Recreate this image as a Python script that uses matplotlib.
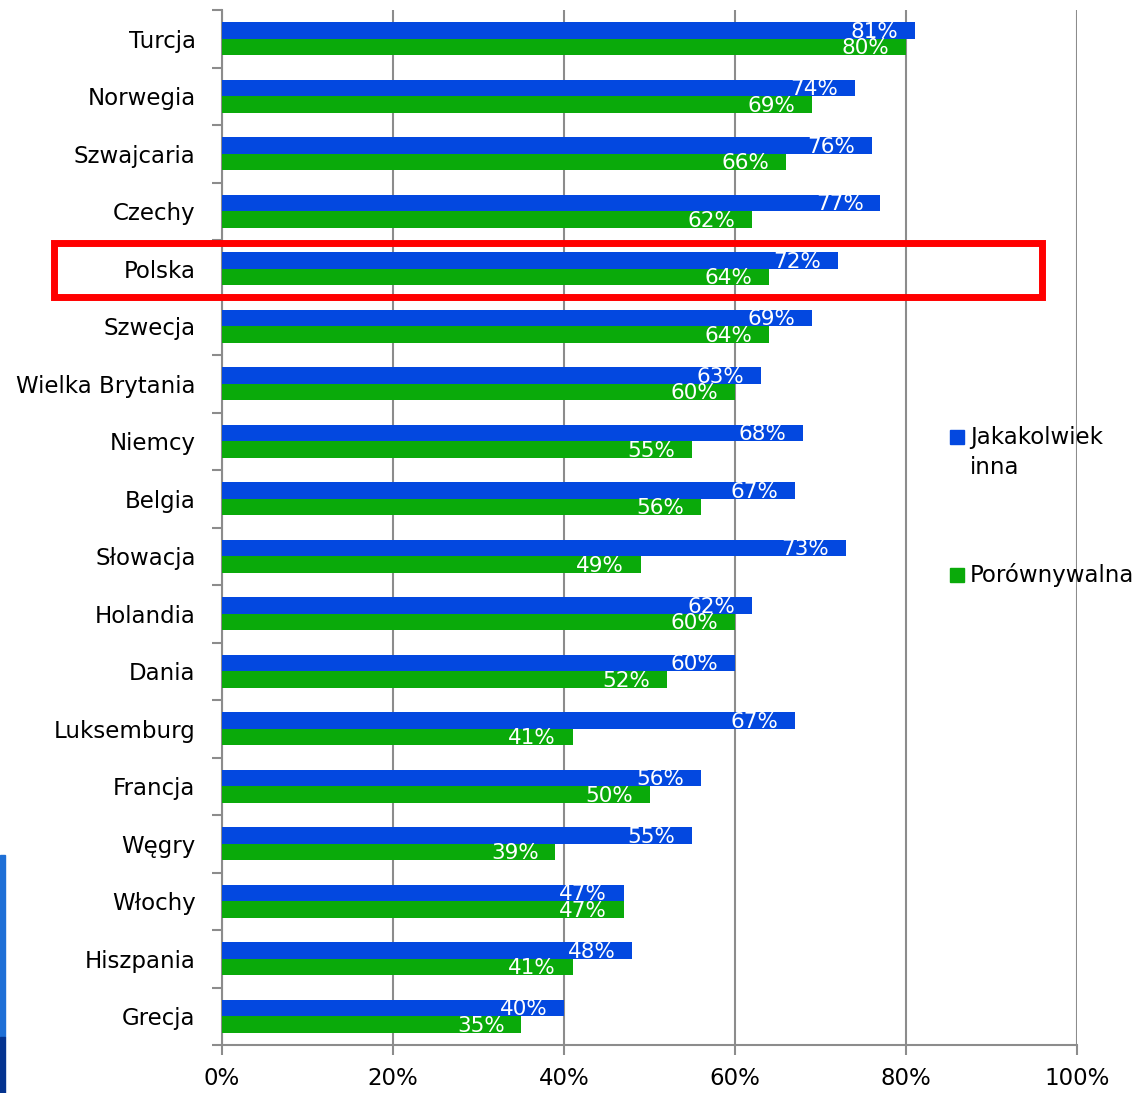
import matplotlib
matplotlib.use("Agg")
import matplotlib.pyplot as plt
from matplotlib.patches import Rectangle
import numpy as np

categories = ["Turcja", "Norwegia", "Szwajcaria", "Czechy", "Polska", "Szwecja",
              "Wielka Brytania", "Niemcy", "Belgia", "Słowacja", "Holandia", "Dania",
              "Luksemburg", "Francja", "Węgry", "Włochy", "Hiszpania", "Grecja"]
jakakolwiek = [81, 74, 76, 77, 72, 69, 63, 68, 67, 73, 62, 60, 67, 56, 55, 47, 48, 40]
porownywalna = [80, 69, 66, 62, 64, 64, 60, 55, 56, 49, 60, 52, 41, 50, 39, 47, 41, 35]
series_names = ["Jakakolwiek\ninna", "Porównywalna"]
xticks = [0, 20, 40, 60, 80, 100]
xticklabels = ["0%", "20%", "40%", "60%", "80%", "100%"]

BLUE = "#0348E0"
GREEN = "#0AAA0A"
GRAY = "#8C8C8C"
W, H = 1142, 1093

plt.rcParams['font.family'] = ['DejaVu Sans']
fig = plt.figure(figsize=(W/100, H/100), dpi=100)
ax = fig.add_axes([222/W, 1-1045/H, (1077-222)/W, (1045-10)/H])

n = len(categories)
y = np.arange(n)
h = 0.29
ax.barh(y - h/2, jakakolwiek, height=h, color=BLUE, zorder=3)
ax.barh(y + h/2, porownywalna, height=h, color=GREEN, zorder=3)

for yi, v in zip(y, jakakolwiek):
    ax.annotate(f"{v}%", (v, yi - h/2), xytext=(-12, -1), textcoords="offset points",
                ha="right", va="center", color="white", fontsize=15.5, zorder=4)
for yi, v in zip(y, porownywalna):
    ax.annotate(f"{v}%", (v, yi + h/2), xytext=(-12, -1), textcoords="offset points",
                ha="right", va="center", color="white", fontsize=15.5, zorder=4)

ax.set_xlim(0, 100)
ax.set_ylim(n - 0.5, -0.5)
ax.set_yticks(y)
ax.set_yticklabels(categories, fontsize=16.5)
ax.set_yticks(np.arange(n + 1) - 0.5, minor=True)
ax.tick_params(axis='y', which='major', length=0, pad=19)
ax.tick_params(axis='y', which='minor', length=7, color=GRAY, width=1.5)
ax.set_xticks(xticks)
ax.set_xticklabels(xticklabels, fontsize=16.5)
ax.tick_params(axis='x', length=7, color=GRAY, width=1.5, pad=9)
ax.xaxis.grid(True, color=GRAY, linewidth=1.5, zorder=0)
for s in ["top", "right"]:
    ax.spines[s].set_visible(False)
for s in ["left", "bottom"]:
    ax.spines[s].set_color(GRAY)
    ax.spines[s].set_linewidth(1.5)

# legend (manual placement)
legend_items = [(BLUE, series_names[0], 437, 452.5), (GREEN, series_names[1], 575, 575)]
for color, label, sq_y, txt_y in legend_items:
    fig.patches.append(Rectangle((950/W, 1-(sq_y+7)/H), 14/W, 14/H,
                                 transform=fig.transFigure, color=color, zorder=5))
    fig.text(970/W, 1-txt_y/H, label, fontsize=16.5, ha="left", va="center",
             linespacing=1.35, zorder=5)

# red highlight rectangle
fig.patches.append(Rectangle((54/W, 1-297/H), (1042-54)/W, (297-243)/H,
                             transform=fig.transFigure, fill=False,
                             edgecolor="#FF0000", linewidth=5, zorder=10))
# decorative side strip
fig.patches.append(Rectangle((0, 1-1037/H), 5/W, (1037-855)/H,
                             transform=fig.transFigure, color="#1E6FD6", zorder=1))
fig.patches.append(Rectangle((0, 0), 5/W, (H-1037)/H,
                             transform=fig.transFigure, color="#04338F", zorder=1))

fig.savefig("out.png", dpi=100)
